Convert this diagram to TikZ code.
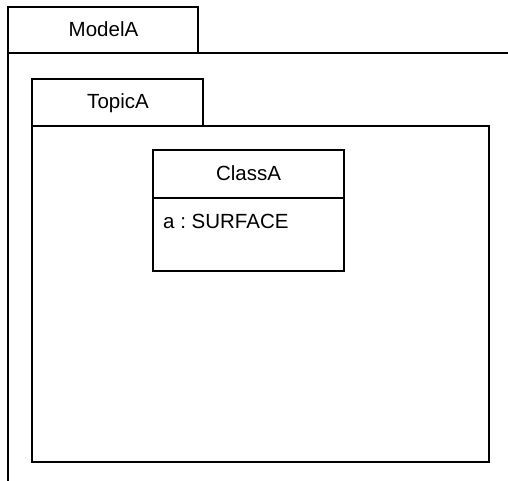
\documentclass[tikz,border=0pt]{standalone}
\usepackage{fontspec}
\setmainfont{Liberation Sans}
\frenchspacing
\begin{document}
\begin{tikzpicture}[x=1pt,y=-1pt,
  frame/.style={draw=black,line width=1.2pt},
  lbl/.style={font=\fontsize{20.5}{24}\selectfont\frenchspacing,inner sep=0pt,anchor=base}]
\useasboundingbox (0,0) rectangle (508,481);
% ModelA package
\draw[frame] (8,53) -- (8,7) -- (198,7) -- (198,53);
\draw[frame] (8,481) -- (8,53) -- (508,53);
\node[lbl] (modelA) at (103.5,36.5) {ModelA};
% TopicA package
\draw[frame] (32,126) -- (32,79) -- (203,79) -- (203,126);
\draw[frame] (32,126) rectangle (489,462);
\node[lbl] (topicA) at (118,109) {TopicA};
% ClassA
\draw[frame] (153,150) rectangle (344,271);
\draw[frame] (153,198) -- (344,198);
\node[lbl] (classA) at (248.5,180) {ClassA};
\node[lbl,anchor=base west] (attrA) at (163,228) {a : SURFACE};
\end{tikzpicture}
\end{document}
